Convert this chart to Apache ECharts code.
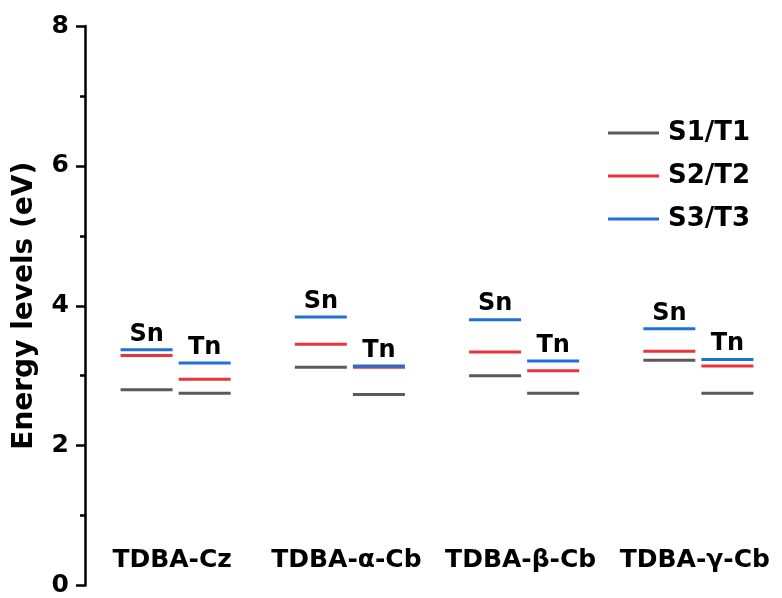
<!DOCTYPE html>
<html>
<head>
<meta charset="utf-8">
<script src="https://cdn.jsdelivr.net/npm/echarts@6/dist/echarts.min.js"></script>
<style>
html,body{margin:0;padding:0;background:#fff;}
#chart{width:782px;height:598px;}
</style>
</head>
<body>
<div id="chart"></div>
<script>
// Molecules (category labels)
const molecules = ['TDBA-Cz', 'TDBA-α-Cb', 'TDBA-β-Cb', 'TDBA-γ-Cb'];
const columnLabels = ['Sn', 'Tn'];
const seriesNames = ['S1/T1', 'S2/T2', 'S3/T3'];
// Singlet levels (eV)
const S1 = [2.80, 3.12, 3.00, 3.22];
const S2 = [3.29, 3.45, 3.34, 3.35];
const S3 = [3.37, 3.84, 3.80, 3.67];
// Triplet levels (eV)
const T1 = [2.75, 2.73, 2.75, 2.75];
const T2 = [2.95, 3.12, 3.07, 3.14];
const T3 = [3.18, 3.14, 3.21, 3.23];
// Y axis ticks
const yTicks = [0, 2, 4, 6, 8];

const colors = ['#5a5a5a', '#e8343a', '#1f6fd8'];
const FONT = 'DejaVu Sans';
const colOffset = 1 / 6; // Sn left, Tn right within each molecule group

function levelData(S, T) {
  const d = [];
  for (let i = 0; i < molecules.length; i++) {
    d.push([i - colOffset, S[i]]);
    d.push([i + colOffset, T[i]]);
  }
  return d;
}
const levels = [[S1, T1], [S2, T2], [S3, T3]];

const chart = echarts.init(document.getElementById('chart'));
const series = levels.map((pair, k) => ({
  name: seriesNames[k],
  type: 'scatter',
  xAxisIndex: 0,
  symbol: 'rect',
  symbolSize: [52, 3],
  itemStyle: { color: colors[k], opacity: 1 },
  emphasis: { disabled: true },
  z: 2 + k,
  data: levelData(pair[0], pair[1]),
  label: k === 2 ? {
    show: true,
    position: 'top',
    distance: 2,
    formatter: p => columnLabels[p.dataIndex % 2],
    fontFamily: FONT,
    fontWeight: 'bold',
    fontSize: 24,
    color: '#000'
  } : { show: false }
}));

chart.setOption({
  animation: false,
  backgroundColor: '#fff',
  grid: { left: 85, right: 0, top: 26, bottom: 6, containLabel: false },
  legend: {
    orient: 'vertical',
    left: 603,
    top: 115,
    itemWidth: 51,
    itemHeight: 3,
    itemGap: 17,
    icon: 'rect',
    data: seriesNames,
    textStyle: { fontFamily: FONT, fontWeight: 'bold', fontSize: 26, color: '#000', padding: [0, 0, 0, 4] }
  },
  xAxis: [
    {
      type: 'value',
      min: -0.52,
      max: 3.48,
      show: false
    },
    {
      type: 'category',
      data: molecules,
      boundaryGap: true,
      position: 'bottom',
      axisLine: { show: false },
      axisTick: { show: false },
      splitLine: { show: false },
      axisLabel: {
        inside: true,
        margin: 13,
        interval: 0,
        fontFamily: FONT,
        fontWeight: 'bold',
        fontSize: 25,
        color: '#000'
      }
    }
  ],
  yAxis: {
    type: 'value',
    min: 0,
    max: 8,
    interval: 2,
    position: 'left',
    name: 'Energy levels (eV)',
    nameLocation: 'middle',
    nameGap: 46,
    nameTextStyle: { fontFamily: FONT, fontWeight: 'bold', fontSize: 28, color: '#000' },
    axisLine: { show: true, onZero: false, lineStyle: { color: '#000', width: 2.5 } },
    axisTick: { show: true, inside: false, length: 9, lineStyle: { color: '#000', width: 2.5 } },
    minorTick: { show: true, splitNumber: 2, length: 5, lineStyle: { color: '#000', width: 2.5 } },
    splitLine: { show: false },
    axisLabel: {
      margin: 16,
      fontFamily: FONT,
      fontWeight: 'bold',
      fontSize: 25,
      color: '#000',
      formatter: v => (yTicks.indexOf(v) >= 0 ? String(v) : '')
    }
  },
  series: series
});
</script>
</body>
</html>
